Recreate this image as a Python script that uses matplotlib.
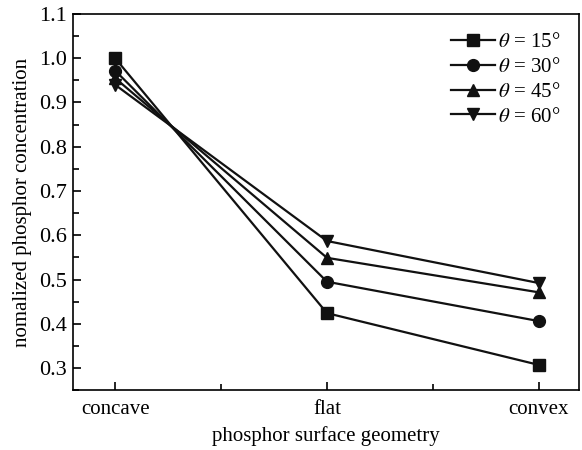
import numpy as np
import matplotlib
matplotlib.use('Agg')
import matplotlib.pyplot as plt
from matplotlib.ticker import MultipleLocator

# dados
geometry = ['concave', 'flat', 'convex']
angles = [15, 30, 45, 60]
conc_15 = [1.000, 0.424, 0.307]
conc_30 = [0.972, 0.495, 0.406]
conc_45 = [0.955, 0.549, 0.471]
conc_60 = [0.940, 0.587, 0.492]

series = [conc_15, conc_30, conc_45, conc_60]
markers = ['s', 'o', '^', 'v']

plt.rcParams['font.family'] = ['Liberation Serif', 'DejaVu Serif']
plt.rcParams['mathtext.fontset'] = 'stix'

fig = plt.figure(figsize=(5.82, 4.5), dpi=100)
ax = fig.add_axes([0.125, 0.133, 0.87, 0.836])

x = np.arange(len(geometry))
for vals, ang, mk in zip(series, angles, markers):
    ax.plot(x, vals, color='#111111', linewidth=1.6, marker=mk, markersize=8.5,
            label=r'$\theta$ = %d°' % ang)

ax.set_xlim(-0.2, 2.19)
ax.set_ylim(0.25, 1.1)
ax.set_xticks(x)
ax.set_xticks([0.5, 1.5], minor=True)
ax.set_xticklabels(geometry)
ax.yaxis.set_major_locator(MultipleLocator(0.1))
ax.yaxis.set_minor_locator(MultipleLocator(0.05))
ax.yaxis.set_major_formatter(plt.FormatStrFormatter('%.1f'))

ax.tick_params(axis='both', which='both', direction='in',
               top=False, right=False, width=1.2)
ax.tick_params(axis='x', which='major', labelsize=15, length=6, pad=7)
ax.tick_params(axis='y', which='major', labelsize=16, length=6, pad=4)
ax.tick_params(axis='both', which='minor', length=4)
for s in ax.spines.values():
    s.set_linewidth(1.2)

ax.set_xlabel('phosphor surface geometry', fontsize=15, labelpad=5)
ax.set_ylabel('nomalized phosphor concentration', fontsize=15, labelpad=5)

leg = ax.legend(loc='upper right', frameon=False, fontsize=15, handlelength=2.1,
                handletextpad=0.15, labelspacing=0.25, borderaxespad=0.5)

fig.savefig('out.png', dpi=100)
